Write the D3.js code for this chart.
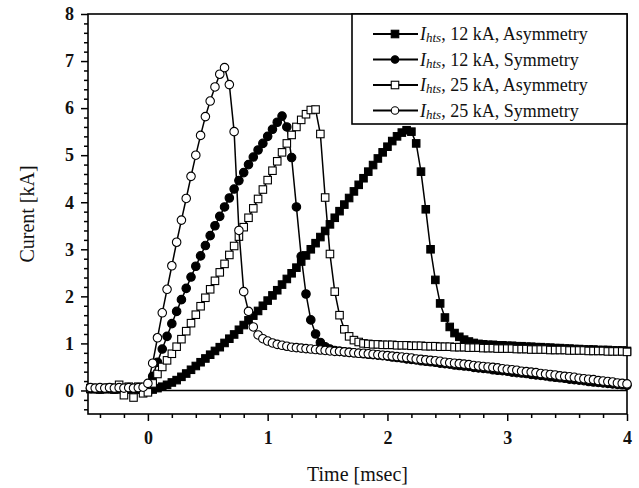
<!DOCTYPE html>
<html>
<head>
<meta charset="utf-8">
<script src="https://cdn.jsdelivr.net/npm/d3@7"></script>
<style>
    body { margin: 0; background: #fff; }
    svg { display: block; }
</style>
</head>
<body>
<div id="chart"></div>
<script>
// Sample times [msec]
var times = [
    -0.48, -0.44, -0.40, -0.36, -0.32, -0.28, -0.24, -0.20, -0.16, -0.12, -0.08, -0.04,
    0.00, 0.04, 0.08, 0.12, 0.16, 0.20, 0.24, 0.28, 0.32, 0.36, 0.40, 0.44, 0.48, 0.52, 0.56, 0.60, 0.64, 0.68, 0.72, 0.76, 0.80, 0.84, 0.88, 0.92, 0.96,
    1.00, 1.04, 1.08, 1.12, 1.16, 1.20, 1.24, 1.28, 1.32, 1.36, 1.40, 1.44, 1.48, 1.52, 1.56, 1.60, 1.64, 1.68, 1.72, 1.76, 1.80, 1.84, 1.88, 1.92, 1.96,
    2.00, 2.04, 2.08, 2.12, 2.16, 2.20, 2.24, 2.28, 2.32, 2.36, 2.40, 2.44, 2.48, 2.52, 2.56, 2.60, 2.64, 2.68, 2.72, 2.76, 2.80, 2.84, 2.88, 2.92, 2.96,
    3.00, 3.04, 3.08, 3.12, 3.16, 3.20, 3.24, 3.28, 3.32, 3.36, 3.40, 3.44, 3.48, 3.52, 3.56, 3.60, 3.64, 3.68, 3.72, 3.76, 3.80, 3.84, 3.88, 3.92, 3.96,
    4.00
];

// I_hts, 12 kA, Asymmetry [kA]
var asym12 = [
    0.03, 0.03, 0.02, 0.03, 0.03, 0.02, 0.03, 0.02, 0.02, 0.03, 0.02, 0.01,
    0.00, 0.02, 0.05, 0.08, 0.12, 0.17, 0.22, 0.29, 0.36, 0.44, 0.52, 0.60, 0.68, 0.76, 0.84, 0.92, 1.01, 1.10, 1.19, 1.29, 1.39, 1.49, 1.59, 1.69, 1.80,
    1.91, 2.02, 2.13, 2.25, 2.37, 2.49, 2.61, 2.74, 2.87, 3.00, 3.13, 3.26, 3.39, 3.53, 3.67, 3.81, 3.95, 4.09, 4.23, 4.37, 4.51, 4.65, 4.79, 4.93, 5.06,
    5.18, 5.30, 5.40, 5.48, 5.53, 5.50, 5.25, 4.65, 3.85, 3.00, 2.35, 1.85, 1.55, 1.35, 1.22, 1.14, 1.08, 1.04, 1.01, 0.99, 0.98, 0.97, 0.97, 0.96, 0.96,
    0.95, 0.95, 0.94, 0.94, 0.93, 0.93, 0.92, 0.92, 0.91, 0.91, 0.90, 0.90, 0.89, 0.89, 0.88, 0.88, 0.87, 0.87, 0.87, 0.86, 0.86, 0.86, 0.85, 0.85, 0.85,
    0.84
];

// I_hts, 12 kA, Symmetry [kA]
var sym12 = [
    0.04, 0.04, 0.03, 0.04, 0.04, 0.03, 0.04, 0.04, 0.03, 0.04, 0.03, 0.04,
    0.05, 0.30, 0.60, 0.88, 1.15, 1.42, 1.68, 1.93, 2.17, 2.41, 2.64, 2.86, 3.08, 3.29, 3.50, 3.70, 3.90, 4.09, 4.28, 4.46, 4.63, 4.80, 4.96, 5.11, 5.25,
    5.40, 5.55, 5.70, 5.83, 5.60, 4.95, 3.90, 2.85, 2.05, 1.50, 1.20, 1.02, 0.93, 0.88, 0.85, 0.83, 0.82, 0.81, 0.80, 0.79, 0.78, 0.77, 0.76, 0.75, 0.74,
    0.73, 0.71, 0.70, 0.69, 0.67, 0.66, 0.65, 0.63, 0.62, 0.61, 0.60, 0.58, 0.57, 0.56, 0.54, 0.53, 0.52, 0.51, 0.49, 0.48, 0.47, 0.46, 0.44, 0.43, 0.42,
    0.41, 0.39, 0.38, 0.37, 0.36, 0.34, 0.33, 0.32, 0.31, 0.29, 0.28, 0.27, 0.26, 0.24, 0.23, 0.22, 0.21, 0.19, 0.18, 0.17, 0.16, 0.15, 0.14, 0.13, 0.12,
    0.11
];

// I_hts, 25 kA, Asymmetry [kA]
var asym25 = [
    0.05, 0.05, 0.04, 0.05, 0.06, 0.04, 0.12, -0.10, 0.08, -0.15, 0.08, -0.06,
    -0.04, 0.15, 0.35, 0.50, 0.64, 0.78, 0.93, 1.09, 1.26, 1.43, 1.61, 1.79, 1.97, 2.15, 2.33, 2.51, 2.69, 2.88, 3.07, 3.27, 3.47, 3.67, 3.87, 4.07, 4.27,
    4.47, 4.67, 4.87, 5.06, 5.25, 5.43, 5.60, 5.75, 5.87, 5.96, 5.97, 5.45, 4.10, 2.90, 2.10, 1.60, 1.30, 1.15, 1.07, 1.03, 1.00, 0.99, 0.98, 0.98, 0.97,
    0.97, 0.97, 0.96, 0.96, 0.96, 0.95, 0.95, 0.95, 0.94, 0.94, 0.94, 0.93, 0.93, 0.93, 0.92, 0.92, 0.92, 0.91, 0.91, 0.91, 0.90, 0.90, 0.90, 0.89, 0.89,
    0.89, 0.89, 0.88, 0.88, 0.88, 0.87, 0.87, 0.87, 0.87, 0.86, 0.86, 0.86, 0.86, 0.85, 0.85, 0.85, 0.85, 0.84, 0.84, 0.84, 0.84, 0.83, 0.83, 0.83, 0.83,
    0.82
];

// I_hts, 25 kA, Symmetry [kA]
var sym25 = [
    0.06, 0.05, 0.06, 0.05, 0.06, 0.05, 0.06, 0.05, 0.06, 0.05, 0.06, 0.07,
    0.15, 0.58, 1.12, 1.65, 2.15, 2.65, 3.15, 3.62, 4.08, 4.55, 5.00, 5.42, 5.82, 6.15, 6.45, 6.72, 6.86, 6.50, 5.50, 3.40, 2.10, 1.68, 1.35, 1.18, 1.10,
    1.05, 1.01, 0.98, 0.96, 0.94, 0.92, 0.91, 0.90, 0.89, 0.88, 0.87, 0.86, 0.85, 0.84, 0.83, 0.83, 0.82, 0.81, 0.80, 0.79, 0.79, 0.78, 0.77, 0.76, 0.75,
    0.74, 0.73, 0.72, 0.71, 0.70, 0.69, 0.67, 0.66, 0.65, 0.64, 0.63, 0.62, 0.60, 0.59, 0.58, 0.57, 0.56, 0.55, 0.53, 0.52, 0.51, 0.50, 0.49, 0.48, 0.46,
    0.45, 0.44, 0.43, 0.41, 0.40, 0.39, 0.38, 0.36, 0.35, 0.34, 0.33, 0.31, 0.30, 0.29, 0.28, 0.26, 0.25, 0.24, 0.23, 0.21, 0.20, 0.19, 0.18, 0.16, 0.15,
    0.14
];

// Axis ticks
var xTicks = [0, 1, 2, 3, 4];
var yTicks = [0, 1, 2, 3, 4, 5, 6, 7, 8];

// Series in draw order, with legend text and marker style
var seriesNames = ["12 kA, Asymmetry", "12 kA, Symmetry", "25 kA, Asymmetry", "25 kA, Symmetry"];
var seriesValues = [asym12, sym12, asym25, sym25];
var seriesShapes = ["square", "circle", "square", "circle"];
var seriesFilled = [true, true, false, false];

var width = 639, height = 488;
// Plot box (window.top is read-only, so no bare "top" here)
var pLeft = 88, pRight = 627, pTop = 14, pBottom = 414;
var font = "'Liberation Serif', 'Times New Roman', serif";

var svg = d3.select("#chart").append("svg")
    .attr("width", width)
    .attr("height", height);

var x = d3.scaleLinear().domain([-0.5, 4]).range([pLeft, pRight]);
var y = d3.scaleLinear().domain([-0.5, 8]).range([pBottom, pTop]);

// Minor ticks every 0.2
var xMinor = d3.range(-0.4, 4, 0.2).filter(function (v) { return Math.abs(v - Math.round(v)) > 1e-6; });
var yMinor = d3.range(-0.4, 8, 0.2).filter(function (v) { return Math.abs(v - Math.round(v)) > 1e-6; });

// Bottom axis
svg.append("g")
    .attr("transform", "translate(0," + pBottom + ")")
    .call(d3.axisBottom(x).tickValues(xMinor).tickSize(4).tickFormat(""))
    .call(function (g) { g.select(".domain").remove(); });
svg.append("g")
    .attr("class", "xaxis")
    .attr("transform", "translate(0," + pBottom + ")")
    .call(d3.axisBottom(x).tickValues(xTicks).tickSize(7).tickPadding(10).tickFormat(d3.format("d")))
    .call(function (g) { g.select(".domain").remove(); });

// Left axis
svg.append("g")
    .attr("transform", "translate(" + pLeft + ",0)")
    .call(d3.axisLeft(y).tickValues(yMinor).tickSize(4).tickFormat(""))
    .call(function (g) { g.select(".domain").remove(); });
svg.append("g")
    .attr("class", "yaxis")
    .attr("transform", "translate(" + pLeft + ",0)")
    .call(d3.axisLeft(y).tickValues(yTicks).tickSize(7).tickPadding(7).tickFormat(d3.format("d")))
    .call(function (g) { g.select(".domain").remove(); });

svg.selectAll(".tick line").attr("stroke", "#000").attr("stroke-width", 1.5);
svg.selectAll(".xaxis text, .yaxis text")
    .style("font-family", font)
    .style("font-size", "18px")
    .style("font-weight", "bold")
    .attr("fill", "#111");

// Zero line
svg.append("line")
    .attr("x1", pLeft).attr("x2", pRight)
    .attr("y1", y(0)).attr("y2", y(0))
    .attr("stroke", "#000")
    .attr("stroke-width", 1.5);

// Frame
svg.append("rect")
    .attr("x", pLeft).attr("y", pTop)
    .attr("width", pRight - pLeft).attr("height", pBottom - pTop)
    .attr("fill", "none")
    .attr("stroke", "#000")
    .attr("stroke-width", 1.6);

// Draw a marker of the given shape into a selection
function addMarker(sel, shape, filled, size) {
    if (shape == "square") {
        sel.append("rect")
            .attr("x", -size / 2).attr("y", -size / 2)
            .attr("width", size).attr("height", size);
    }
    else {
        sel.append("circle").attr("r", size / 2);
    }
    sel.selectAll("rect, circle")
        .attr("fill", filled ? "#000" : "#fff")
        .attr("stroke", "#000")
        .attr("stroke-width", 1.1);
}

var line = d3.line()
    .x(function (d) { return x(d.t); })
    .y(function (d) { return y(d.v); });

// Lines and markers for every series
seriesValues.forEach(function (vals, s) {
    var data = times.map(function (t, i) { return { t: t, v: vals[i] }; });
    var g = svg.append("g");
    g.append("path")
        .datum(data)
        .attr("d", line)
        .attr("fill", "none")
        .attr("stroke", "#000")
        .attr("stroke-width", 1.5);
    g.selectAll(".pt").data(data).enter()
        .append("g")
        .attr("transform", function (d) { return "translate(" + x(d.t) + "," + y(d.v) + ")"; })
        .each(function () {
            addMarker(d3.select(this), seriesShapes[s], seriesFilled[s], seriesShapes[s] == "square" ? 7.5 : 8.5);
        });
});

// Legend
var lg = svg.append("g");
lg.append("rect")
    .attr("x", 352).attr("y", pTop)
    .attr("width", pRight - 352).attr("height", 110)
    .attr("fill", "#fff")
    .attr("stroke", "#000")
    .attr("stroke-width", 1.6);

seriesNames.forEach(function (name, s) {
    var ry = 34 + s * 25.5;
    var row = lg.append("g");
    row.append("line")
        .attr("x1", 373).attr("x2", 418)
        .attr("y1", ry).attr("y2", ry)
        .attr("stroke", "#000")
        .attr("stroke-width", 1.8);
    var m = row.append("g").attr("transform", "translate(395," + ry + ")");
    addMarker(m, seriesShapes[s], seriesFilled[s], 7.5);
    var txt = row.append("text")
        .attr("x", 420)
        .attr("y", ry + 6)
        .style("font-family", font)
        .style("font-size", "18px")
        .attr("fill", "#111");
    txt.append("tspan").style("font-style", "italic").text("I");
    txt.append("tspan").style("font-style", "italic").style("font-size", "13px").attr("dy", 2).text("hts");
    txt.append("tspan").attr("dy", -2).text(", " + name);
});

// Axis titles
svg.append("text")
    .attr("x", (pLeft + pRight) / 2)
    .attr("y", 481)
    .attr("text-anchor", "middle")
    .style("font-family", font)
    .style("font-size", "20px")
    .attr("fill", "#111")
    .text("Time [msec]");

svg.append("text")
    .attr("transform", "translate(34," + ((pTop + pBottom) / 2) + ") rotate(-90)")
    .attr("text-anchor", "middle")
    .style("font-family", font)
    .style("font-size", "20px")
    .attr("fill", "#111")
    .text("Curent [kA]");
</script>
</body>
</html>
